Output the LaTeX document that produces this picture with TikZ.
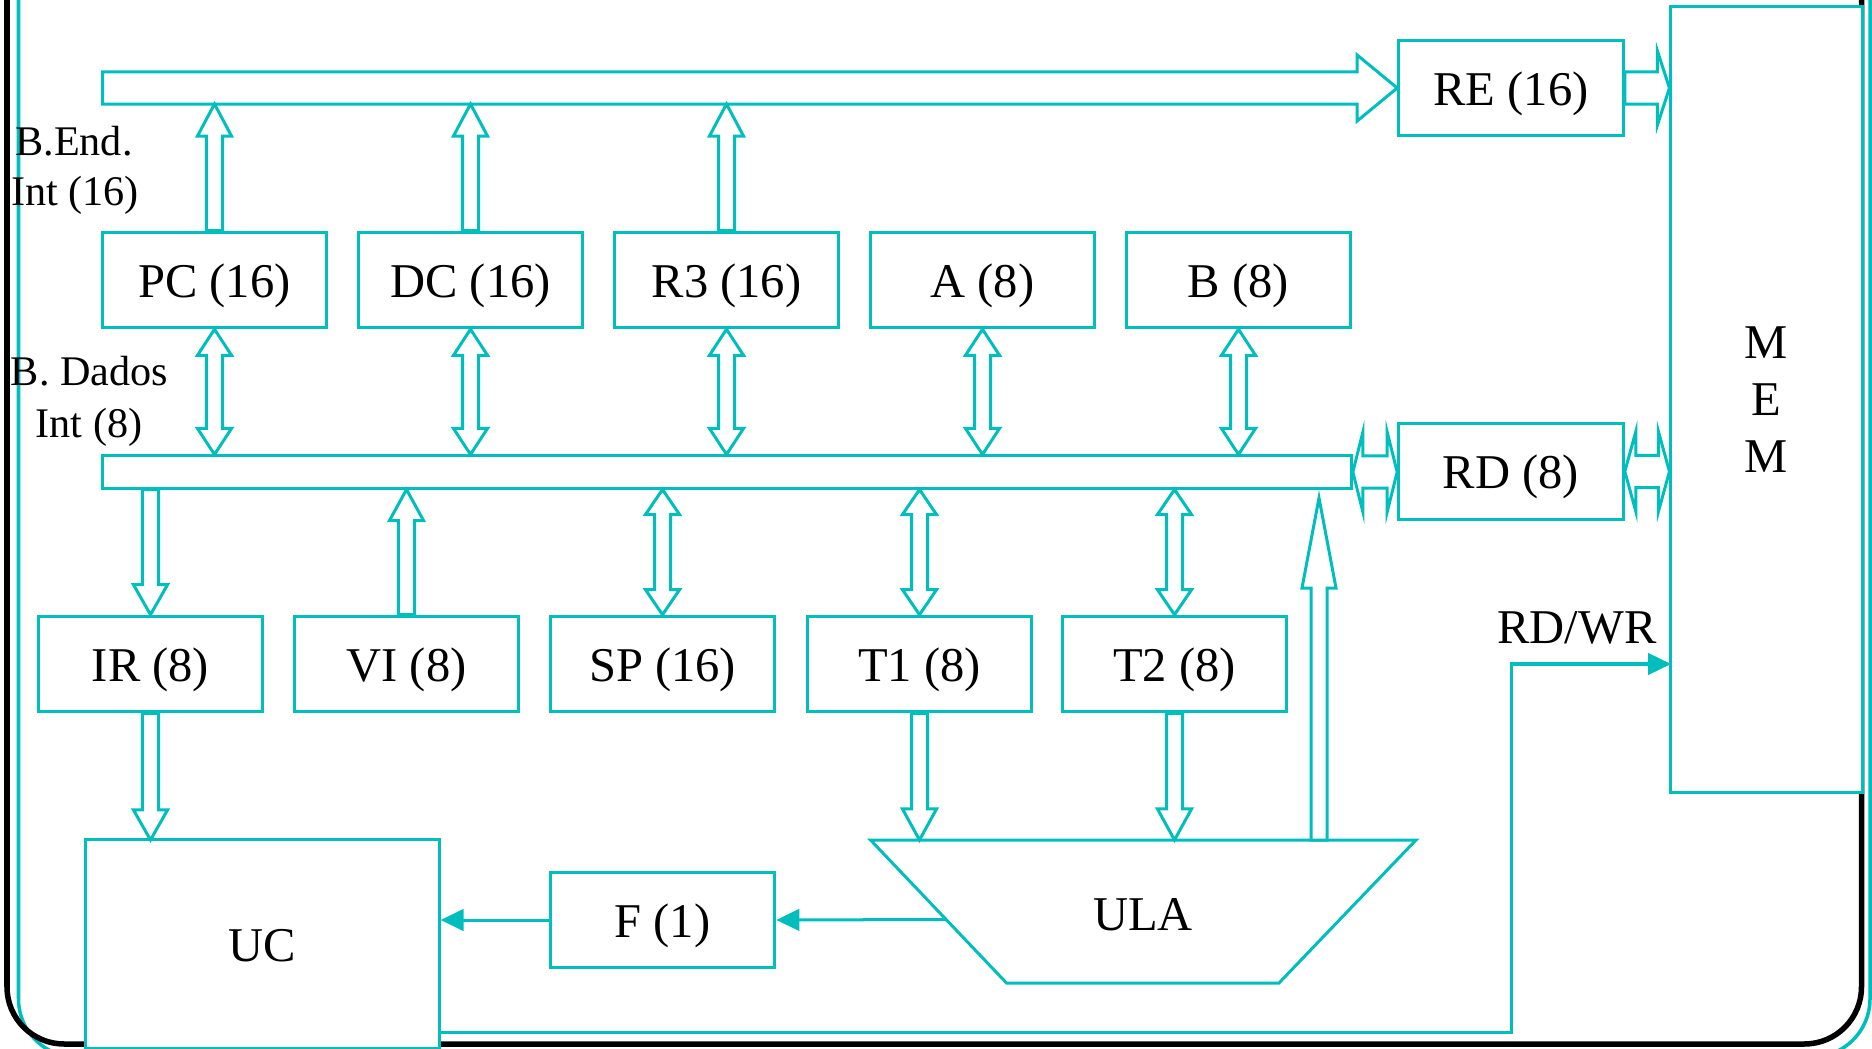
\documentclass[tikz,border=0pt]{standalone}
\usepackage{fontspec}
\setmainfont{Liberation Serif}
\usetikzlibrary{calc,arrows.meta}
\definecolor{cpuline}{RGB}{0,190,190}

% one grid unit is 0.01cm; this is that unit in pt
\newcommand\pxu{0.2845276}

% vertical block arrow: tail #1, tip #2, shaft half-width #3, head length #4, head half-width #5
\newcommand\vsingle[5]{%
  \draw[blk] let \p1=(#1), \p2=(#2), \n1={sign(\y1-\y2)*#4*\pxu},
      \n2={#3*\pxu}, \n3={#5*\pxu} in
    ({\x1-\n2},{\y1}) -- ({\x1-\n2},{\y2+\n1}) -- ({\x1-\n3},{\y2+\n1})
    -- ({\x1},{\y2}) -- ({\x1+\n3},{\y2+\n1}) -- ({\x1+\n2},{\y2+\n1})
    -- ({\x1+\n2},{\y1}) -- cycle;}
% vertical block arrow with heads at both ends
\newcommand\vdouble[5]{%
  \draw[blk] let \p1=(#1), \p2=(#2), \n1={sign(\y1-\y2)*#4*\pxu},
      \n2={#3*\pxu}, \n3={#5*\pxu} in
    ({\x1},{\y1}) -- ({\x1-\n3},{\y1-\n1}) -- ({\x1-\n2},{\y1-\n1})
    -- ({\x1-\n2},{\y2+\n1}) -- ({\x1-\n3},{\y2+\n1}) -- ({\x1},{\y2})
    -- ({\x1+\n3},{\y2+\n1}) -- ({\x1+\n2},{\y2+\n1})
    -- ({\x1+\n2},{\y1-\n1}) -- ({\x1+\n3},{\y1-\n1}) -- cycle;}
% horizontal block arrow
\newcommand\hsingle[5]{%
  \draw[blk] let \p1=(#1), \p2=(#2), \n1={sign(\x1-\x2)*#4*\pxu},
      \n2={#3*\pxu}, \n3={#5*\pxu} in
    ({\x1},{\y1-\n2}) -- ({\x2+\n1},{\y1-\n2}) -- ({\x2+\n1},{\y1-\n3})
    -- ({\x2},{\y1}) -- ({\x2+\n1},{\y1+\n3}) -- ({\x2+\n1},{\y1+\n2})
    -- ({\x1},{\y1+\n2}) -- cycle;}
% horizontal block arrow with heads at both ends
\newcommand\hdouble[5]{%
  \draw[blk] let \p1=(#1), \p2=(#2), \n1={sign(\x1-\x2)*#4*\pxu},
      \n2={#3*\pxu}, \n3={#5*\pxu} in
    ({\x1},{\y1}) -- ({\x1-\n1},{\y1-\n3}) -- ({\x1-\n1},{\y1-\n2})
    -- ({\x2+\n1},{\y1-\n2}) -- ({\x2+\n1},{\y1-\n3}) -- ({\x2},{\y1})
    -- ({\x2+\n1},{\y1+\n3}) -- ({\x2+\n1},{\y1+\n2})
    -- ({\x1-\n1},{\y1+\n2}) -- ({\x1-\n1},{\y1+\n3}) -- cycle;}

\begin{document}
\begin{tikzpicture}[x=0.01cm,y=-0.01cm,
  blk/.style={draw=cpuline, line width=0.03cm, fill=white, line join=miter},
  reg/.style={draw=cpuline, line width=0.03cm, fill=white, inner sep=0pt,
    minimum width=2.245cm, minimum height=0.955cm,
    font=\fontsize{13.8}{16}\selectfont, text height=12.3pt, text depth=2.5pt},
  lbl/.style={font=\fontsize{12}{14}\selectfont, inner sep=0pt},
  sig/.style={draw=cpuline, line width=0.03cm,
    -{Triangle[length=0.23cm,width=0.215cm]}}]

\useasboundingbox (0,0) rectangle (1872,1049);
\clip (0,0) rectangle (1872,1049);

% slide frame
\draw[cpuline, line width=0.035cm, rounded corners=0.58cm]
  (18.5,-60) -- (18.5,1057) -- (1870,1057) -- (1870,-60);
\draw[black, line width=0.055cm, rounded corners=0.57cm]
  (7,-60) -- (7,1044) -- (1861.5,1044) -- (1861.5,-60);

% memory and its registers
\node[draw=cpuline, line width=0.03cm, fill=white, inner sep=0pt,
  minimum width=1.91cm, minimum height=7.85cm, align=center,
  font=\fontsize{13.8}{16.3}\selectfont] (mem) at (1766.5,399.5) {M\\E\\M};
\node[reg] (re) at (1511,88) {RE (16)};
\node[reg] (rd) at (1511,471.5) {RD (8)};

% internal address bus
\coordinate (abusL) at (102.5,88);
\coordinate (abusS) at (102.5,104);
\hsingle{abusL}{re.west}{16}{40}{33}
\hsingle{re.east}{mem.west |- re.east}{16}{12}{37}

% internal data bus
\node[draw=cpuline, line width=0.03cm, fill=white, inner sep=0pt,
  minimum width=12.485cm, minimum height=0.32cm] (dbus) at (726.75,472) {};
\hdouble{dbus.east}{rd.west}{16}{10}{40}
\hdouble{rd.east}{mem.west |- rd.east}{16}{11}{40}

% upper register row
\node[reg] (pc) at (214.5,280) {PC (16)};
\node[reg] (dc) at (470.5,280) {DC (16)};
\node[reg] (r3) at (726.5,280) {R3 (16)};
\node[reg] (ra) at (982.5,280) {A (8)};
\node[reg] (rb) at (1238.5,280) {B (8)};

\foreach \r in {pc,dc,r3}
  {\vsingle{\r.north}{\r.north |- abusS}{8}{32}{17}}
\foreach \r in {pc,dc,r3,ra,rb}
  {\vdouble{\r.south}{\r.south |- dbus.north}{8}{26}{17}}

% lower register row
\node[reg] (ir) at (150.5,664) {IR (8)};
\node[reg] (vi) at (406.5,664) {VI (8)};
\node[reg] (sp) at (662.5,664) {SP (16)};
\node[reg] (t1) at (919.5,664) {T1 (8)};
\node[reg] (t2) at (1174.5,664) {T2 (8)};

\vsingle{ir.north |- dbus.south}{ir.north}{8}{30}{17}
\vsingle{vi.north}{vi.north |- dbus.south}{8}{31}{17}
\foreach \r in {sp,t1,t2}
  {\vdouble{\r.north}{\r.north |- dbus.south}{8}{25}{17}}

% control unit, flags and ALU
\node[reg, minimum width=3.53cm, minimum height=2.08cm] (uc) at (262.5,944) {UC};
\node[reg] (f) at (662.5,920) {F (1)};

\coordinate (ulaTL) at (870.5,840);
\coordinate (ulaTR) at (1416,840);
\coordinate (ulaBR) at (1279,983);
\coordinate (ulaBL) at (1006.5,983);
\draw[blk] (ulaTL) -- (ulaTR) -- (ulaBR) -- (ulaBL) -- cycle;
\node[font=\fontsize{13.8}{16}\selectfont, inner sep=0pt, anchor=base] (ula) at (1143,930) {ULA};
\coordinate (ulatip) at (1319,498);

\vsingle{ir.south}{ir.south |- ulaTL}{8}{30}{17}
\vsingle{t1.south}{t1.south |- ulaTL}{8}{31}{17}
\vsingle{t2.south}{t2.south |- ulaTL}{8}{31}{17}
\vsingle{ulaTL -| ulatip}{ulatip}{8}{90}{17}

\draw[sig] ($(ulaTL)!0.556!(ulaBL)$) -- (f.east);
\draw[sig] (f.west) -- (f.west -| uc.east);

% read/write control line
\coordinate (rwbend) at (1511,1032);
\coordinate (rwin) at (1671,664);
\draw[sig] (uc.east |- rwbend) -- (rwbend) -- (rwbend |- rwin) -- (rwin);
\node[font=\fontsize{13.8}{16}\selectfont, inner sep=0pt, anchor=base] (rdwr) at (1577,644) {RD/WR};

% bus labels
\node[lbl, anchor=base] (bend1) at (74,156) {B.End.};
\node[lbl, anchor=base] (bend2) at (75,206) {Int (16)};
\node[lbl, anchor=base] (bdad1) at (89.5,386) {B. Dados};
\node[lbl, anchor=base] (bdad2) at (89,438) {Int (8)};
\end{tikzpicture}
\end{document}
